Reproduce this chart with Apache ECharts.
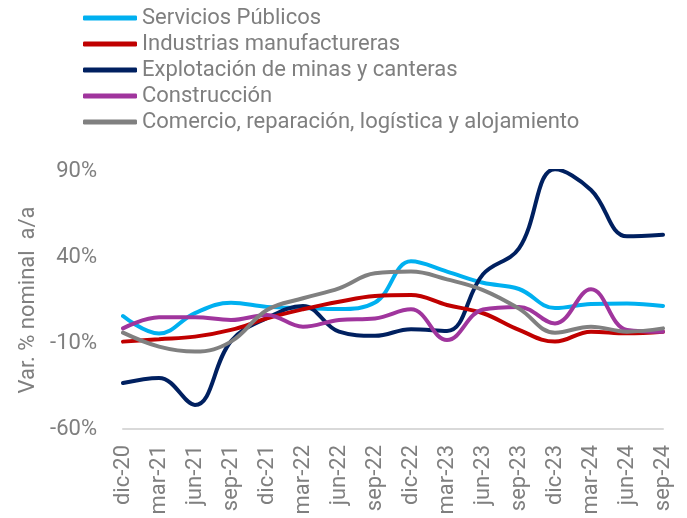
<!DOCTYPE html>
<html>
<head>
<meta charset="utf-8">
<script src="https://cdn.jsdelivr.net/npm/echarts@6/dist/echarts.min.js"></script>
<style>
html,body{margin:0;padding:0;background:#fff;}
#chart{width:687px;height:518px;}
</style>
</head>
<body>
<div id="chart"></div>
<script>
const categories = ['dic-20','mar-21','jun-21','sep-21','dic-21','mar-22','jun-22','sep-22','dic-22','mar-23','jun-23','sep-23','dic-23','mar-24','jun-24','sep-24'];
const seriesNames = ['Servicios Públicos','Industrias manufactureras','Explotación de minas y canteras','Construcción','Comercio, reparación, logística y alojamiento'];
const serviciosPublicos = [5.7, -4.5, 7.4, 13.4, 11, 10.3, 9.7, 13.5, 37.5, 31.5, 25, 21.4, 10.3, 12.7, 13, 11.5];
const industrias = [-9.2, -7.8, -6.3, -2.4, 4.3, 9.6, 14, 17.3, 17.9, 12.1, 7.3, -2.4, -9.2, -3.4, -4.4, -3.4];
const mineria = [-33.3, -30.3, -46, -9, 4.5, 11.5, -3.4, -5.8, -2, -3, 30, 45, 91, 79, 52, 53];
const construccion = [-1.5, 4.9, 5, 3.4, 6.3, -0.5, 3.4, 4.3, 9.6, -8.3, 9.5, 11, 1.4, 21.2, -2.4, -3.4];
const comercio = [-4, -12.1, -15, -9.2, 9.2, 16, 21.8, 30.5, 31.5, 27, 20.8, 10, -4, -0.5, -3.4, -1.5];
const yTicks = {min: -60, max: 90, interval: 50};
const colors = ['#00b0f0', '#c00000', '#002060', '#a0359d', '#808080'];

const dataSets = [serviciosPublicos, industrias, mineria, construccion, comercio];
const textColor = '#7f7f7f';
const font = 'Roboto';

const chart = echarts.init(document.getElementById('chart'));
chart.setOption({
  animation: false,
  color: colors,
  textStyle: {fontFamily: font},
  grid: {left: 123, right: 24, top: 171, bottom: 89, containLabel: false},
  legend: {
    orient: 'vertical',
    left: 78,
    top: 0,
    itemWidth: 54,
    itemHeight: 5,
    itemGap: 0,
    icon: 'roundRect',
    textStyle: {color: textColor, fontSize: 22, fontFamily: font, lineHeight: 26},
    data: seriesNames
  },
  xAxis: [{
    type: 'category',
    data: categories,
    boundaryGap: false,
    axisLine: {show: false},
    axisTick: {show: false},
    axisLabel: {rotate: 90, color: textColor, fontSize: 22, fontFamily: font, margin: 16, interval: 0}
  }, {
    type: 'category',
    data: categories,
    boundaryGap: false,
    position: 'bottom',
    axisLine: {show: true, onZero: true, lineStyle: {color: '#d9d9d9', width: 2}},
    axisTick: {show: false},
    axisLabel: {show: false}
  }],
  yAxis: {
    type: 'value',
    min: yTicks.min,
    max: yTicks.max,
    interval: yTicks.interval,
    name: 'Var. % nominal  a/a',
    nameLocation: 'middle',
    nameGap: 84,
    nameTextStyle: {color: textColor, fontSize: 22, fontFamily: font},
    axisLine: {show: false},
    axisTick: {show: false},
    splitLine: {show: false},
    axisLabel: {formatter: '{value}%', color: textColor, fontSize: 22, fontFamily: font, margin: 26}
  },
  series: seriesNames.map((n, i) => ({
    name: n,
    type: 'line',
    xAxisIndex: 0,
    data: dataSets[i],
    smooth: 0.4,
    showSymbol: false,
    symbol: 'none',
    lineStyle: {width: 4, color: colors[i], cap: 'round'},
    z: 2 + (i === 2 ? 0 : i)
  }))
});
</script>
</body>
</html>
